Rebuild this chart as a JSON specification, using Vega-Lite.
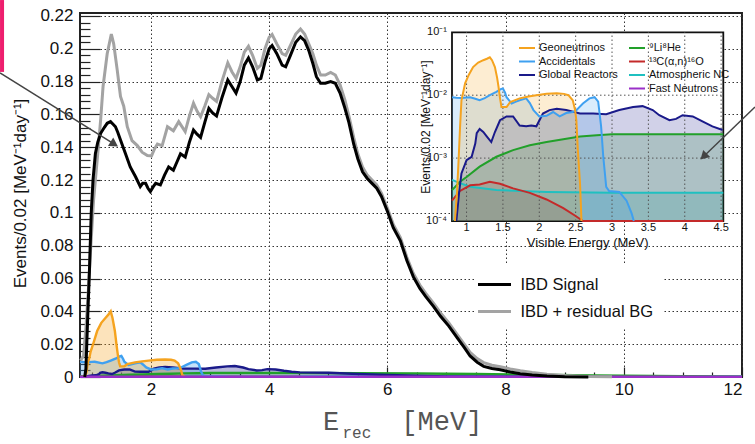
{
"$schema": "https://vega.github.io/schema/vega-lite/v6.json",
"width": 662, "height": 364, "autosize": "none",
"padding": {"left": 80, "top": 13, "right": 13, "bottom": 67},
"background": "white",
"config": {"view": {"stroke": "#222", "strokeWidth": 2}, "font": "Liberation Sans", "axis": {"labelFont": "Liberation Sans", "titleFont": "Liberation Sans", "titleFontWeight": "normal"}, "legend": {"labelFont": "Liberation Sans"}},
"datasets": {
"ibd": [
{"x":0.81,"y":0.010,"s":"IBD + residual BG"},{"x":0.86,"y":0.013,"s":"IBD + residual BG"},{"x":0.90,"y":0.030,"s":"IBD + residual BG"},{"x":0.94,"y":0.052,"s":"IBD + residual BG"},{"x":0.98,"y":0.078,"s":"IBD + residual BG"},{"x":1.03,"y":0.108,"s":"IBD + residual BG"},{"x":1.10,"y":0.136,"s":"IBD + residual BG"},{"x":1.15,"y":0.157,"s":"IBD + residual BG"},{"x":1.19,"y":0.177,"s":"IBD + residual BG"},{"x":1.26,"y":0.197,"s":"IBD + residual BG"},{"x":1.33,"y":0.209,"s":"IBD + residual BG"},{"x":1.37,"y":0.203,"s":"IBD + residual BG"},{"x":1.43,"y":0.187,"s":"IBD + residual BG"},{"x":1.485,"y":0.171,"s":"IBD + residual BG"},{"x":1.54,"y":0.165,"s":"IBD + residual BG"},{"x":1.60,"y":0.1525,"s":"IBD + residual BG"},{"x":1.68,"y":0.144,"s":"IBD + residual BG"},{"x":1.77,"y":0.141,"s":"IBD + residual BG"},{"x":1.85,"y":0.137,"s":"IBD + residual BG"},{"x":1.94,"y":0.135,"s":"IBD + residual BG"},{"x":2.01,"y":0.1347,"s":"IBD + residual BG"},{"x":2.06,"y":0.139,"s":"IBD + residual BG"},{"x":2.11,"y":0.142,"s":"IBD + residual BG"},{"x":2.19,"y":0.141,"s":"IBD + residual BG"},{"x":2.28,"y":0.1525,"s":"IBD + residual BG"},{"x":2.38,"y":0.150,"s":"IBD + residual BG"},{"x":2.47,"y":0.1556,"s":"IBD + residual BG"},{"x":2.58,"y":0.1495,"s":"IBD + residual BG"},{"x":2.65,"y":0.159,"s":"IBD + residual BG"},{"x":2.72,"y":0.1668,"s":"IBD + residual BG"},{"x":2.78,"y":0.162,"s":"IBD + residual BG"},{"x":2.84,"y":0.1586,"s":"IBD + residual BG"},{"x":2.91,"y":0.165,"s":"IBD + residual BG"},{"x":2.98,"y":0.172,"s":"IBD + residual BG"},{"x":3.04,"y":0.170,"s":"IBD + residual BG"},{"x":3.11,"y":0.168,"s":"IBD + residual BG"},{"x":3.20,"y":0.180,"s":"IBD + residual BG"},{"x":3.30,"y":0.1914,"s":"IBD + residual BG"},{"x":3.37,"y":0.186,"s":"IBD + residual BG"},{"x":3.44,"y":0.182,"s":"IBD + residual BG"},{"x":3.51,"y":0.189,"s":"IBD + residual BG"},{"x":3.58,"y":0.198,"s":"IBD + residual BG"},{"x":3.65,"y":0.2015,"s":"IBD + residual BG"},{"x":3.72,"y":0.196,"s":"IBD + residual BG"},{"x":3.80,"y":0.188,"s":"IBD + residual BG"},{"x":3.86,"y":0.190,"s":"IBD + residual BG"},{"x":3.93,"y":0.200,"s":"IBD + residual BG"},{"x":4.00,"y":0.207,"s":"IBD + residual BG"},{"x":4.05,"y":0.2087,"s":"IBD + residual BG"},{"x":4.13,"y":0.203,"s":"IBD + residual BG"},{"x":4.22,"y":0.197,"s":"IBD + residual BG"},{"x":4.28,"y":0.196,"s":"IBD + residual BG"},{"x":4.36,"y":0.202,"s":"IBD + residual BG"},{"x":4.45,"y":0.209,"s":"IBD + residual BG"},{"x":4.53,"y":0.212,"s":"IBD + residual BG"},{"x":4.60,"y":0.209,"s":"IBD + residual BG"},{"x":4.67,"y":0.203,"s":"IBD + residual BG"},{"x":4.74,"y":0.197,"s":"IBD + residual BG"},{"x":4.80,"y":0.190,"s":"IBD + residual BG"},{"x":4.87,"y":0.184,"s":"IBD + residual BG"},{"x":4.95,"y":0.184,"s":"IBD + residual BG"},{"x":5.04,"y":0.1856,"s":"IBD + residual BG"},{"x":5.12,"y":0.184,"s":"IBD + residual BG"},{"x":5.20,"y":0.178,"s":"IBD + residual BG"},{"x":5.28,"y":0.169,"s":"IBD + residual BG"},{"x":5.35,"y":0.159,"s":"IBD + residual BG"},{"x":5.43,"y":0.146,"s":"IBD + residual BG"},{"x":5.50,"y":0.136,"s":"IBD + residual BG"},{"x":5.58,"y":0.128,"s":"IBD + residual BG"},{"x":5.66,"y":0.123,"s":"IBD + residual BG"},{"x":5.74,"y":0.120,"s":"IBD + residual BG"},{"x":5.82,"y":0.117,"s":"IBD + residual BG"},{"x":5.90,"y":0.112,"s":"IBD + residual BG"},{"x":6.00,"y":0.103,"s":"IBD + residual BG"},{"x":6.10,"y":0.093,"s":"IBD + residual BG"},{"x":6.22,"y":0.085,"s":"IBD + residual BG"},{"x":6.33,"y":0.073,"s":"IBD + residual BG"},{"x":6.44,"y":0.063,"s":"IBD + residual BG"},{"x":6.55,"y":0.056,"s":"IBD + residual BG"},{"x":6.65,"y":0.051,"s":"IBD + residual BG"},{"x":6.78,"y":0.045,"s":"IBD + residual BG"},{"x":6.90,"y":0.039,"s":"IBD + residual BG"},{"x":7.04,"y":0.033,"s":"IBD + residual BG"},{"x":7.18,"y":0.026,"s":"IBD + residual BG"},{"x":7.30,"y":0.020,"s":"IBD + residual BG"},{"x":7.40,"y":0.015,"s":"IBD + residual BG"},{"x":7.52,"y":0.0112,"s":"IBD + residual BG"},{"x":7.63,"y":0.0088,"s":"IBD + residual BG"},{"x":7.77,"y":0.0072,"s":"IBD + residual BG"},{"x":7.91,"y":0.0062,"s":"IBD + residual BG"},{"x":8.08,"y":0.0049,"s":"IBD + residual BG"},{"x":8.25,"y":0.0038,"s":"IBD + residual BG"},{"x":8.45,"y":0.0027,"s":"IBD + residual BG"},{"x":8.70,"y":0.0017,"s":"IBD + residual BG"},{"x":9.00,"y":0.0009,"s":"IBD + residual BG"},{"x":9.40,"y":0.0003,"s":"IBD + residual BG"},{"x":9.80,"y":0.0001,"s":"IBD + residual BG"},
{"x":0.88,"y":0,"s":"IBD Signal"},{"x":0.90,"y":0.005,"s":"IBD Signal"},{"x":0.93,"y":0.036,"s":"IBD Signal"},{"x":0.96,"y":0.065,"s":"IBD Signal"},{"x":0.99,"y":0.100,"s":"IBD Signal"},{"x":1.02,"y":0.120,"s":"IBD Signal"},{"x":1.06,"y":0.136,"s":"IBD Signal"},{"x":1.10,"y":0.143,"s":"IBD Signal"},{"x":1.15,"y":0.1485,"s":"IBD Signal"},{"x":1.21,"y":0.152,"s":"IBD Signal"},{"x":1.26,"y":0.1546,"s":"IBD Signal"},{"x":1.316,"y":0.1556,"s":"IBD Signal"},{"x":1.36,"y":0.154,"s":"IBD Signal"},{"x":1.40,"y":0.1525,"s":"IBD Signal"},{"x":1.44,"y":0.149,"s":"IBD Signal"},{"x":1.485,"y":0.1444,"s":"IBD Signal"},{"x":1.53,"y":0.140,"s":"IBD Signal"},{"x":1.57,"y":0.136,"s":"IBD Signal"},{"x":1.65,"y":0.128,"s":"IBD Signal"},{"x":1.74,"y":0.122,"s":"IBD Signal"},{"x":1.82,"y":0.116,"s":"IBD Signal"},{"x":1.86,"y":0.118,"s":"IBD Signal"},{"x":1.91,"y":0.118,"s":"IBD Signal"},{"x":1.95,"y":0.115,"s":"IBD Signal"},{"x":1.99,"y":0.113,"s":"IBD Signal"},{"x":2.04,"y":0.116,"s":"IBD Signal"},{"x":2.08,"y":0.118,"s":"IBD Signal"},{"x":2.16,"y":0.117,"s":"IBD Signal"},{"x":2.23,"y":0.123,"s":"IBD Signal"},{"x":2.30,"y":0.128,"s":"IBD Signal"},{"x":2.38,"y":0.126,"s":"IBD Signal"},{"x":2.44,"y":0.131,"s":"IBD Signal"},{"x":2.50,"y":0.136,"s":"IBD Signal"},{"x":2.58,"y":0.134,"s":"IBD Signal"},{"x":2.65,"y":0.143,"s":"IBD Signal"},{"x":2.72,"y":0.1505,"s":"IBD Signal"},{"x":2.78,"y":0.148,"s":"IBD Signal"},{"x":2.84,"y":0.146,"s":"IBD Signal"},{"x":2.91,"y":0.155,"s":"IBD Signal"},{"x":2.98,"y":0.1637,"s":"IBD Signal"},{"x":3.04,"y":0.161,"s":"IBD Signal"},{"x":3.11,"y":0.159,"s":"IBD Signal"},{"x":3.20,"y":0.170,"s":"IBD Signal"},{"x":3.30,"y":0.181,"s":"IBD Signal"},{"x":3.37,"y":0.177,"s":"IBD Signal"},{"x":3.44,"y":0.173,"s":"IBD Signal"},{"x":3.51,"y":0.180,"s":"IBD Signal"},{"x":3.58,"y":0.190,"s":"IBD Signal"},{"x":3.65,"y":0.1944,"s":"IBD Signal"},{"x":3.72,"y":0.189,"s":"IBD Signal"},{"x":3.80,"y":0.181,"s":"IBD Signal"},{"x":3.86,"y":0.182,"s":"IBD Signal"},{"x":3.93,"y":0.192,"s":"IBD Signal"},{"x":4.00,"y":0.200,"s":"IBD Signal"},{"x":4.05,"y":0.202,"s":"IBD Signal"},{"x":4.13,"y":0.197,"s":"IBD Signal"},{"x":4.22,"y":0.190,"s":"IBD Signal"},{"x":4.28,"y":0.189,"s":"IBD Signal"},{"x":4.36,"y":0.196,"s":"IBD Signal"},{"x":4.45,"y":0.204,"s":"IBD Signal"},{"x":4.53,"y":0.2073,"s":"IBD Signal"},{"x":4.60,"y":0.205,"s":"IBD Signal"},{"x":4.67,"y":0.199,"s":"IBD Signal"},{"x":4.74,"y":0.191,"s":"IBD Signal"},{"x":4.80,"y":0.183,"s":"IBD Signal"},{"x":4.87,"y":0.179,"s":"IBD Signal"},{"x":4.95,"y":0.179,"s":"IBD Signal"},{"x":5.04,"y":0.180,"s":"IBD Signal"},{"x":5.12,"y":0.179,"s":"IBD Signal"},{"x":5.20,"y":0.173,"s":"IBD Signal"},{"x":5.28,"y":0.164,"s":"IBD Signal"},{"x":5.35,"y":0.155,"s":"IBD Signal"},{"x":5.43,"y":0.142,"s":"IBD Signal"},{"x":5.50,"y":0.133,"s":"IBD Signal"},{"x":5.58,"y":0.125,"s":"IBD Signal"},{"x":5.66,"y":0.121,"s":"IBD Signal"},{"x":5.74,"y":0.118,"s":"IBD Signal"},{"x":5.82,"y":0.115,"s":"IBD Signal"},{"x":5.90,"y":0.110,"s":"IBD Signal"},{"x":6.00,"y":0.101,"s":"IBD Signal"},{"x":6.10,"y":0.091,"s":"IBD Signal"},{"x":6.22,"y":0.083,"s":"IBD Signal"},{"x":6.33,"y":0.071,"s":"IBD Signal"},{"x":6.44,"y":0.061,"s":"IBD Signal"},{"x":6.55,"y":0.054,"s":"IBD Signal"},{"x":6.65,"y":0.049,"s":"IBD Signal"},{"x":6.78,"y":0.043,"s":"IBD Signal"},{"x":6.90,"y":0.037,"s":"IBD Signal"},{"x":7.04,"y":0.031,"s":"IBD Signal"},{"x":7.18,"y":0.024,"s":"IBD Signal"},{"x":7.30,"y":0.018,"s":"IBD Signal"},{"x":7.40,"y":0.0128,"s":"IBD Signal"},{"x":7.52,"y":0.009,"s":"IBD Signal"},{"x":7.63,"y":0.0065,"s":"IBD Signal"},{"x":7.77,"y":0.0052,"s":"IBD Signal"},{"x":7.91,"y":0.0044,"s":"IBD Signal"},{"x":8.08,"y":0.003,"s":"IBD Signal"},{"x":8.25,"y":0.002,"s":"IBD Signal"},{"x":8.45,"y":0.0012,"s":"IBD Signal"},{"x":8.70,"y":0.0006,"s":"IBD Signal"},{"x":9.00,"y":0.0002,"s":"IBD Signal"},{"x":9.40,"y":0.00005,"s":"IBD Signal"}
],
"bg": [
{"x":0.80,"y":0.00045,"s":"Atmospheric NC"},{"x":0.91,"y":0.0004,"s":"Atmospheric NC"},{"x":1.05,"y":0.00035,"s":"Atmospheric NC"},{"x":1.41,"y":0.00031,"s":"Atmospheric NC"},{"x":2.10,"y":0.00029,"s":"Atmospheric NC"},{"x":3.01,"y":0.00028,"s":"Atmospheric NC"},{"x":4.53,"y":0.00028,"s":"Atmospheric NC"},{"x":12,"y":0.00028,"s":"Atmospheric NC"},
{"x":0.80,"y":0.00021,"s":"¹³C(α,n)¹⁶O"},{"x":0.91,"y":0.0003,"s":"¹³C(α,n)¹⁶O"},{"x":1.05,"y":0.00037,"s":"¹³C(α,n)¹⁶O"},{"x":1.18,"y":0.00038,"s":"¹³C(α,n)¹⁶O"},{"x":1.32,"y":0.00042,"s":"¹³C(α,n)¹⁶O"},{"x":1.46,"y":0.00039,"s":"¹³C(α,n)¹⁶O"},{"x":1.64,"y":0.00033,"s":"¹³C(α,n)¹⁶O"},{"x":1.87,"y":0.00028,"s":"¹³C(α,n)¹⁶O"},{"x":2.10,"y":0.00022,"s":"¹³C(α,n)¹⁶O"},{"x":2.33,"y":0.00016,"s":"¹³C(α,n)¹⁶O"},{"x":2.50,"y":0.00012,"s":"¹³C(α,n)¹⁶O"},{"x":2.60,"y":0.0001,"s":"¹³C(α,n)¹⁶O"},{"x":4.53,"y":0.0001,"s":"¹³C(α,n)¹⁶O"},
{"x":0.80,"y":0.00031,"s":"⁹Li⁸He"},{"x":0.91,"y":0.00042,"s":"⁹Li⁸He"},{"x":1.00,"y":0.0005,"s":"⁹Li⁸He"},{"x":1.18,"y":0.00073,"s":"⁹Li⁸He"},{"x":1.41,"y":0.00105,"s":"⁹Li⁸He"},{"x":1.64,"y":0.00134,"s":"⁹Li⁸He"},{"x":1.87,"y":0.0016,"s":"⁹Li⁸He"},{"x":2.10,"y":0.0018,"s":"⁹Li⁸He"},{"x":2.33,"y":0.0020,"s":"⁹Li⁸He"},{"x":2.56,"y":0.0022,"s":"⁹Li⁸He"},{"x":2.79,"y":0.0023,"s":"⁹Li⁸He"},{"x":3.00,"y":0.0024,"s":"⁹Li⁸He"},{"x":3.50,"y":0.0024,"s":"⁹Li⁸He"},{"x":4.00,"y":0.0024,"s":"⁹Li⁸He"},{"x":4.53,"y":0.0024,"s":"⁹Li⁸He"},{"x":5.5,"y":0.0023,"s":"⁹Li⁸He"},{"x":6.5,"y":0.0021,"s":"⁹Li⁸He"},{"x":7.5,"y":0.0018,"s":"⁹Li⁸He"},{"x":8.5,"y":0.0014,"s":"⁹Li⁸He"},{"x":9.5,"y":0.0010,"s":"⁹Li⁸He"},{"x":10.5,"y":0.0006,"s":"⁹Li⁸He"},{"x":11.5,"y":0.0003,"s":"⁹Li⁸He"},{"x":12,"y":0.0002,"s":"⁹Li⁸He"},
{"x":0.86,"y":0.0001,"s":"Global Reactors"},{"x":0.90,"y":0.0003,"s":"Global Reactors"},{"x":0.93,"y":0.00057,"s":"Global Reactors"},{"x":1.00,"y":0.00093,"s":"Global Reactors"},{"x":1.07,"y":0.00105,"s":"Global Reactors"},{"x":1.12,"y":0.0017,"s":"Global Reactors"},{"x":1.14,"y":0.0025,"s":"Global Reactors"},{"x":1.18,"y":0.0029,"s":"Global Reactors"},{"x":1.23,"y":0.0026,"s":"Global Reactors"},{"x":1.28,"y":0.0022,"s":"Global Reactors"},{"x":1.34,"y":0.0018,"s":"Global Reactors"},{"x":1.39,"y":0.0026,"s":"Global Reactors"},{"x":1.46,"y":0.0040,"s":"Global Reactors"},{"x":1.55,"y":0.0046,"s":"Global Reactors"},{"x":1.64,"y":0.0046,"s":"Global Reactors"},{"x":1.73,"y":0.0033,"s":"Global Reactors"},{"x":1.82,"y":0.0032,"s":"Global Reactors"},{"x":1.89,"y":0.0033,"s":"Global Reactors"},{"x":1.96,"y":0.0032,"s":"Global Reactors"},{"x":2.05,"y":0.0051,"s":"Global Reactors"},{"x":2.14,"y":0.0058,"s":"Global Reactors"},{"x":2.24,"y":0.0061,"s":"Global Reactors"},{"x":2.37,"y":0.0058,"s":"Global Reactors"},{"x":2.56,"y":0.0051,"s":"Global Reactors"},{"x":2.74,"y":0.0051,"s":"Global Reactors"},{"x":2.92,"y":0.0050,"s":"Global Reactors"},{"x":3.10,"y":0.0058,"s":"Global Reactors"},{"x":3.29,"y":0.0065,"s":"Global Reactors"},{"x":3.42,"y":0.0067,"s":"Global Reactors"},{"x":3.56,"y":0.0058,"s":"Global Reactors"},{"x":3.65,"y":0.0048,"s":"Global Reactors"},{"x":3.79,"y":0.0040,"s":"Global Reactors"},{"x":3.88,"y":0.0042,"s":"Global Reactors"},{"x":3.97,"y":0.0048,"s":"Global Reactors"},{"x":4.11,"y":0.0046,"s":"Global Reactors"},{"x":4.25,"y":0.0038,"s":"Global Reactors"},{"x":4.38,"y":0.0032,"s":"Global Reactors"},{"x":4.52,"y":0.0028,"s":"Global Reactors"},{"x":5.0,"y":0.0026,"s":"Global Reactors"},{"x":5.5,"y":0.0018,"s":"Global Reactors"},{"x":6.0,"y":0.0012,"s":"Global Reactors"},{"x":7.0,"y":0.0004,"s":"Global Reactors"},{"x":8.0,"y":0.00012,"s":"Global Reactors"},{"x":9.0,"y":0.0001,"s":"Global Reactors"},
{"x":0.80,"y":0.0093,"s":"Accidentals"},{"x":0.86,"y":0.0091,"s":"Accidentals"},{"x":0.93,"y":0.0090,"s":"Accidentals"},{"x":1.00,"y":0.0092,"s":"Accidentals"},{"x":1.05,"y":0.0093,"s":"Accidentals"},{"x":1.12,"y":0.0088,"s":"Accidentals"},{"x":1.18,"y":0.0083,"s":"Accidentals"},{"x":1.25,"y":0.0090,"s":"Accidentals"},{"x":1.32,"y":0.0100,"s":"Accidentals"},{"x":1.41,"y":0.0113,"s":"Accidentals"},{"x":1.47,"y":0.0125,"s":"Accidentals"},{"x":1.50,"y":0.0128,"s":"Accidentals"},{"x":1.53,"y":0.011,"s":"Accidentals"},{"x":1.55,"y":0.0093,"s":"Accidentals"},{"x":1.62,"y":0.0074,"s":"Accidentals"},{"x":1.68,"y":0.0079,"s":"Accidentals"},{"x":1.73,"y":0.0083,"s":"Accidentals"},{"x":1.82,"y":0.0089,"s":"Accidentals"},{"x":1.87,"y":0.0075,"s":"Accidentals"},{"x":1.92,"y":0.0058,"s":"Accidentals"},{"x":2.00,"y":0.0046,"s":"Accidentals"},{"x":2.10,"y":0.0047,"s":"Accidentals"},{"x":2.19,"y":0.0054,"s":"Accidentals"},{"x":2.28,"y":0.0046,"s":"Accidentals"},{"x":2.37,"y":0.0052,"s":"Accidentals"},{"x":2.46,"y":0.0054,"s":"Accidentals"},{"x":2.51,"y":0.0058,"s":"Accidentals"},{"x":2.60,"y":0.0074,"s":"Accidentals"},{"x":2.69,"y":0.0089,"s":"Accidentals"},{"x":2.76,"y":0.0093,"s":"Accidentals"},{"x":2.81,"y":0.0079,"s":"Accidentals"},{"x":2.85,"y":0.0032,"s":"Accidentals"},{"x":2.88,"y":0.00105,"s":"Accidentals"},{"x":2.92,"y":0.00035,"s":"Accidentals"},{"x":2.96,"y":0.0003,"s":"Accidentals"},{"x":3.10,"y":0.00029,"s":"Accidentals"},{"x":3.20,"y":0.00021,"s":"Accidentals"},{"x":3.27,"y":0.000132,"s":"Accidentals"},{"x":3.30,"y":0.0001,"s":"Accidentals"},
{"x":0.84,"y":0.0001,"s":"Geoneutrinos"},{"x":0.87,"y":0.0003,"s":"Geoneutrinos"},{"x":0.89,"y":0.0009,"s":"Geoneutrinos"},{"x":0.91,"y":0.003,"s":"Geoneutrinos"},{"x":0.93,"y":0.0083,"s":"Geoneutrinos"},{"x":0.96,"y":0.012,"s":"Geoneutrinos"},{"x":0.98,"y":0.0155,"s":"Geoneutrinos"},{"x":1.03,"y":0.021,"s":"Geoneutrinos"},{"x":1.09,"y":0.028,"s":"Geoneutrinos"},{"x":1.16,"y":0.033,"s":"Geoneutrinos"},{"x":1.23,"y":0.036,"s":"Geoneutrinos"},{"x":1.28,"y":0.038,"s":"Geoneutrinos"},{"x":1.32,"y":0.040,"s":"Geoneutrinos"},{"x":1.35,"y":0.036,"s":"Geoneutrinos"},{"x":1.39,"y":0.028,"s":"Geoneutrinos"},{"x":1.42,"y":0.019,"s":"Geoneutrinos"},{"x":1.44,"y":0.0135,"s":"Geoneutrinos"},{"x":1.46,"y":0.009,"s":"Geoneutrinos"},{"x":1.48,"y":0.0065,"s":"Geoneutrinos"},{"x":1.55,"y":0.0065,"s":"Geoneutrinos"},{"x":1.60,"y":0.0078,"s":"Geoneutrinos"},{"x":1.73,"y":0.0089,"s":"Geoneutrinos"},{"x":1.85,"y":0.0095,"s":"Geoneutrinos"},{"x":1.96,"y":0.0100,"s":"Geoneutrinos"},{"x":2.10,"y":0.0105,"s":"Geoneutrinos"},{"x":2.24,"y":0.0107,"s":"Geoneutrinos"},{"x":2.34,"y":0.0105,"s":"Geoneutrinos"},{"x":2.40,"y":0.0100,"s":"Geoneutrinos"},{"x":2.46,"y":0.0083,"s":"Geoneutrinos"},{"x":2.49,"y":0.006,"s":"Geoneutrinos"},{"x":2.51,"y":0.0040,"s":"Geoneutrinos"},{"x":2.53,"y":0.00135,"s":"Geoneutrinos"},{"x":2.56,"y":0.0004,"s":"Geoneutrinos"},{"x":2.58,"y":0.0001,"s":"Geoneutrinos"},
{"x":0.80,"y":0.00018,"s":"Fast Neutrons"},{"x":12,"y":0.00018,"s":"Fast Neutrons"}
],
"ixticks": [{"v":1,"lab":"1"},{"v":1.5,"lab":"1.5"},{"v":2,"lab":"2"},{"v":2.5,"lab":"2.5"},{"v":3,"lab":"3"},{"v":3.5,"lab":"3.5"},{"v":4,"lab":"4"},{"v":4.5,"lab":"4.5"}],
"iyticks": [{"v":0.0001,"lab":"10⁻⁴"},{"v":0.001,"lab":"10⁻³"},{"v":0.01,"lab":"10⁻²"},{"v":0.1,"lab":"10⁻¹"}]
},
"layer": [
{
"layer": [
{"data": {"name": "bg"}, "transform": [{"filter": {"field": "s", "oneOf": ["Geoneutrinos", "Accidentals", "Global Reactors"]}}],
 "mark": {"type": "area", "fillOpacity": 0.3},
 "encoding": {
  "x": {"field": "x", "type": "quantitative", "scale": {"domain": [0.8, 12], "nice": false, "zero": false}, "axis": null},
  "y": {"field": "y", "type": "quantitative", "scale": {"domain": [0, 0.2218], "nice": false, "zero": false}, "axis": null, "stack": null},
  "fill": {"field": "s", "type": "nominal", "scale": {"domain": ["Geoneutrinos", "Accidentals", "Global Reactors"], "range": ["#f5a31f", "#3fa0f0", "#1a1a8a"]}, "legend": null}
 }},
{"data": {"name": "bg"},
 "mark": {"type": "line", "strokeWidth": 2.4},
 "encoding": {
  "x": {"field": "x", "type": "quantitative", "scale": {"domain": [0.8, 12], "nice": false, "zero": false}, "axis": null},
  "y": {"field": "y", "type": "quantitative", "scale": {"domain": [0, 0.2218], "nice": false, "zero": false}, "axis": null, "stack": null},
  "stroke": {"field": "s", "type": "nominal", "scale": {"domain": ["Atmospheric NC", "¹³C(α,n)¹⁶O", "⁹Li⁸He", "Global Reactors", "Accidentals", "Geoneutrinos", "Fast Neutrons"], "range": ["#1fc0c0", "#c42a2a", "#22a02a", "#1a1a8a", "#3fa0f0", "#f5a31f", "#9a30c8"]}, "legend": null}
 }},
{"data": {"name": "ibd"},
 "mark": {"type": "line", "strokeWidth": 3},
 "encoding": {
  "x": {"field": "x", "type": "quantitative", "scale": {"domain": [0.8, 12], "nice": false, "zero": false},
   "axis": {"orient": "bottom", "values": [2, 4, 6, 8, 10, 12], "grid": true, "gridDash": [1.5, 2.5], "gridColor": "#333", "gridWidth": 1, "tickSize": -10, "tickColor": "#222", "tickWidth": 1.2, "labelPadding": 14, "labelFontSize": 17, "labelColor": "#111", "domain": false, "title": null}},
  "y": {"field": "y", "type": "quantitative", "scale": {"domain": [0, 0.2218], "nice": false, "zero": false}, "stack": null,
   "axis": {"orient": "left", "values": [0, 0.02, 0.04, 0.06, 0.08, 0.1, 0.12, 0.14, 0.16, 0.18, 0.2, 0.22], "format": ".2~f", "grid": true, "gridDash": [1.5, 2.5], "gridColor": "#333", "gridWidth": 1, "tickSize": -20, "tickColor": "#222", "tickWidth": 1.2, "labelPadding": 27, "labelFontSize": 17, "labelColor": "#111", "domain": false,
    "title": "Events/0.02 [MeV⁻¹day⁻¹]", "titleFontSize": 17, "titleColor": "#111", "titleX": -55, "titleY": 180, "titleAngle": 270, "titleBaseline": "alphabetic", "titleAlign": "center"}},
  "color": {"field": "s", "type": "nominal", "sort": null, "scale": {"domain": ["IBD Signal", "IBD + residual BG"], "range": ["#000000", "#a3a3a3"]},
   "legend": {"orient": "none", "legendX": 395, "legendY": 252, "title": null, "symbolType": "M-1.65,0H1.65", "symbolSize": 400, "symbolStrokeWidth": 3, "labelFontSize": 16.5, "labelColor": "#111", "labelOffset": 14.5, "rowPadding": 7, "padding": 8, "fillColor": "white"}}
 }},
{"data": {"name": "ibd"},
 "mark": {"type": "point", "opacity": 0},
 "encoding": {
  "x": {"field": "x", "type": "quantitative", "scale": {"domain": [0.8, 12], "nice": false, "zero": false},
   "axis": {"orient": "bottom", "values": [1, 1.5, 2.5, 3, 3.5, 4.5, 5, 5.5, 6.5, 7, 7.5, 8.5, 9, 9.5, 10.5, 11, 11.5], "grid": false, "labels": false, "domain": false, "tickSize": -5, "tickColor": "#222", "tickWidth": 1.2, "title": null}},
  "y": {"field": "y", "type": "quantitative", "scale": {"domain": [0, 0.2218], "nice": false, "zero": false}, "stack": null,
   "axis": {"orient": "left", "values": [0.004,0.008,0.012,0.016,0.024,0.028,0.032,0.036,0.044,0.048,0.052,0.056,0.064,0.068,0.072,0.076,0.084,0.088,0.092,0.096,0.104,0.108,0.112,0.116,0.124,0.128,0.132,0.136,0.144,0.148,0.152,0.156,0.164,0.168,0.172,0.176,0.184,0.188,0.192,0.196,0.204,0.208,0.212,0.216], "grid": false, "labels": false, "domain": false, "tickSize": -10, "tickColor": "#222", "tickWidth": 1.2, "title": null}}
 }},
{"data": {"values": [{}]}, "mark": {"type": "text", "font": "Liberation Mono", "fontSize": 27, "color": "#555", "align": "left", "baseline": "alphabetic"},
 "encoding": {"x": {"datum": 4.91, "type": "quantitative", "scale": {"domain": [0.8, 12], "nice": false, "zero": false}, "axis": null}, "y": {"datum": -0.0323, "type": "quantitative", "scale": {"domain": [0, 0.2218], "nice": false, "zero": false}, "axis": null}, "text": {"value": "E"}}},
{"data": {"values": [{}]}, "mark": {"type": "text", "font": "Liberation Mono", "fontSize": 16, "color": "#555", "align": "left", "baseline": "alphabetic"},
 "encoding": {"x": {"datum": 5.24, "type": "quantitative", "scale": {"domain": [0.8, 12], "nice": false, "zero": false}, "axis": null}, "y": {"datum": -0.0373, "type": "quantitative", "scale": {"domain": [0, 0.2218], "nice": false, "zero": false}, "axis": null}, "text": {"value": "rec"}}},
{"data": {"values": [{}]}, "mark": {"type": "text", "font": "Liberation Mono", "fontSize": 27, "color": "#555", "align": "left", "baseline": "alphabetic"},
 "encoding": {"x": {"datum": 6.237, "type": "quantitative", "scale": {"domain": [0.8, 12], "nice": false, "zero": false}, "axis": null}, "y": {"datum": -0.0323, "type": "quantitative", "scale": {"domain": [0, 0.2218], "nice": false, "zero": false}, "axis": null}, "text": {"value": "[MeV]"}}},
{"data": {"values": [{}]}, "mark": {"type": "rule", "color": "#444", "strokeWidth": 1.5},
 "encoding": {"x": {"datum": -0.553, "type": "quantitative", "scale": {"domain": [0.8, 12], "nice": false, "zero": false}, "axis": null}, "y": {"datum": 0.1853, "type": "quantitative", "scale": {"domain": [0, 0.2218], "nice": false, "zero": false}, "axis": null}, "x2": {"datum": 1.38}, "y2": {"datum": 0.1419}}},
{"data": {"values": [{}]}, "mark": {"type": "point", "shape": "triangle-right", "filled": true, "color": "#444", "size": 100, "angle": 32, "opacity": 1},
 "encoding": {"x": {"datum": 1.38, "type": "quantitative", "scale": {"domain": [0.8, 12], "nice": false, "zero": false}, "axis": null}, "y": {"datum": 0.1419, "type": "quantitative", "scale": {"domain": [0, 0.2218], "nice": false, "zero": false}, "axis": null}}},
{"data": {"values": [{}]}, "mark": {"type": "rect", "color": "#ee1e6e"},
 "encoding": {"x": {"datum": -0.553, "type": "quantitative", "scale": {"domain": [0.8, 12], "nice": false, "zero": false}, "axis": null}, "x2": {"datum": -0.485}, "y": {"datum": 0.2297, "type": "quantitative", "scale": {"domain": [0, 0.2218], "nice": false, "zero": false}, "axis": null}, "y2": {"datum": 0.1859}}}
],
"resolve": {"axis": {"x": "independent", "y": "independent"}}
},
{
"layer": [
{"data": {"values": [{}]}, "mark": {"type": "rect", "fill": "white", "stroke": "#111", "strokeWidth": 1.8},
 "encoding": {
  "x": {"datum": 0.8, "type": "quantitative", "scale": {"domain": [0.8, 4.53], "range": [372, 643.3], "nice": false, "zero": false}, "axis": null},
  "x2": {"datum": 4.53},
  "y": {"datum": 0.0001, "type": "quantitative", "scale": {"type": "log", "domain": [0.0001, 0.1], "range": [208, 19.3], "nice": false}, "axis": null},
  "y2": {"datum": 0.1}
 }},
{"data": {"name": "bg"}, "transform": [{"filter": "datum.x <= 4.54"}],
 "mark": {"type": "area", "fillOpacity": 0.2},
 "encoding": {
  "x": {"field": "x", "type": "quantitative", "scale": {"domain": [0.8, 4.53], "range": [372, 643.3], "nice": false, "zero": false}, "axis": null},
  "y": {"field": "y", "type": "quantitative", "scale": {"type": "log", "domain": [0.0001, 0.1], "range": [208, 19.3], "nice": false}, "axis": null, "stack": null},
  "y2": {"datum": 0.0001},
  "fill": {"field": "s", "type": "nominal", "scale": {"domain": ["Atmospheric NC", "¹³C(α,n)¹⁶O", "⁹Li⁸He", "Global Reactors", "Accidentals", "Geoneutrinos", "Fast Neutrons"], "range": ["#1fc0c0", "#c42a2a", "#22a02a", "#1a1a8a", "#3fa0f0", "#f5a31f", "#9a30c8"]}, "legend": null}
 }},
{"data": {"name": "ixticks"},
 "mark": {"type": "rule", "color": "#555", "strokeWidth": 1, "strokeDash": [1.5, 2.5]},
 "encoding": {
  "x": {"field": "v", "type": "quantitative", "scale": {"domain": [0.8, 4.53], "range": [372, 643.3], "nice": false, "zero": false}, "axis": null},
  "y": {"datum": 0.0001, "type": "quantitative", "scale": {"type": "log", "domain": [0.0001, 0.1], "range": [208, 19.3], "nice": false}, "axis": null},
  "y2": {"datum": 0.1}
 }},
{"data": {"name": "iyticks"}, "transform": [{"filter": "datum.v > 0.0002 && datum.v < 0.05"}],
 "mark": {"type": "rule", "color": "#555", "strokeWidth": 1, "strokeDash": [1.5, 2.5]},
 "encoding": {
  "x": {"datum": 0.8, "type": "quantitative", "scale": {"domain": [0.8, 4.53], "range": [372, 643.3], "nice": false, "zero": false}, "axis": null},
  "x2": {"datum": 4.53},
  "y": {"field": "v", "type": "quantitative", "scale": {"type": "log", "domain": [0.0001, 0.1], "range": [208, 19.3], "nice": false}, "axis": null}
 }},
{"data": {"name": "bg"}, "transform": [{"filter": "datum.x <= 4.54"}],
 "mark": {"type": "line", "strokeWidth": 2},
 "encoding": {
  "x": {"field": "x", "type": "quantitative", "scale": {"domain": [0.8, 4.53], "range": [372, 643.3], "nice": false, "zero": false}, "axis": null},
  "y": {"field": "y", "type": "quantitative", "scale": {"type": "log", "domain": [0.0001, 0.1], "range": [208, 19.3], "nice": false}, "axis": null, "stack": null},
  "color": {"field": "s", "type": "nominal", "scale": {"domain": ["Geoneutrinos", "Accidentals", "Global Reactors", " ", "⁹Li⁸He", "¹³C(α,n)¹⁶O", "Atmospheric NC", "Fast Neutrons"], "range": ["#f5a31f", "#3fa0f0", "#1a1a8a", "rgba(0,0,0,0)", "#22a02a", "#c42a2a", "#1fc0c0", "#9a30c8"]},
   "legend": {"orient": "none", "legendX": 440, "legendY": 28, "columns": 2, "title": null, "symbolType": "M-1.333,0H1.333", "symbolSize": 144, "symbolStrokeWidth": 2, "labelFontSize": 11, "labelColor": "#111", "labelOffset": 5, "rowPadding": 1.5, "columnPadding": 7, "padding": 0}}
 }},
{"data": {"name": "ixticks"},
 "mark": {"type": "text", "fontSize": 11, "color": "#111", "align": "center", "baseline": "middle"},
 "encoding": {
  "x": {"field": "v", "type": "quantitative", "scale": {"domain": [0.8, 4.53], "range": [372, 643.3], "nice": false, "zero": false}, "axis": null},
  "y": {"datum": 0.0000774, "type": "quantitative", "scale": {"type": "log", "domain": [0.0001, 0.1], "range": [208, 19.3], "nice": false}, "axis": null},
  "text": {"field": "lab"}
 }},
{"data": {"name": "iyticks"},
 "mark": {"type": "text", "fontSize": 11, "color": "#111", "align": "right", "baseline": "middle"},
 "encoding": {
  "x": {"datum": 0.731, "type": "quantitative", "scale": {"domain": [0.8, 4.53], "range": [372, 643.3], "nice": false, "zero": false}, "axis": null},
  "y": {"field": "v", "type": "quantitative", "scale": {"type": "log", "domain": [0.0001, 0.1], "range": [208, 19.3], "nice": false}, "axis": null},
  "text": {"field": "lab"}
 }},
{"data": {"values": [{}]}, "mark": {"type": "text", "fontSize": 13, "color": "#111", "align": "center", "baseline": "alphabetic"},
 "encoding": {
  "x": {"datum": 2.665, "type": "quantitative", "scale": {"domain": [0.8, 4.53], "range": [372, 643.3], "nice": false, "zero": false}, "axis": null},
  "y": {"datum": 0.0000386, "type": "quantitative", "scale": {"type": "log", "domain": [0.0001, 0.1], "range": [208, 19.3], "nice": false}, "axis": null},
  "text": {"value": "Visible Energy (MeV)"}
 }},
{"data": {"values": [{}]}, "mark": {"type": "text", "fontSize": 12, "color": "#111", "align": "center", "baseline": "alphabetic", "angle": 270},
 "encoding": {
  "x": {"datum": 0.5, "type": "quantitative", "scale": {"domain": [0.8, 4.53], "range": [372, 643.3], "nice": false, "zero": false}, "axis": null},
  "y": {"datum": 0.00312, "type": "quantitative", "scale": {"type": "log", "domain": [0.0001, 0.1], "range": [208, 19.3], "nice": false}, "axis": null},
  "text": {"value": "Events/0.02 [MeV⁻¹day⁻¹]"}
 }},
{"data": {"values": [{}]}, "mark": {"type": "rule", "color": "#444", "strokeWidth": 1.5},
 "encoding": {"x": {"datum": 4.966, "type": "quantitative", "scale": {"domain": [0.8, 4.53], "range": [372, 643.3], "nice": false, "zero": false}, "axis": null}, "y": {"datum": 0.00649, "type": "quantitative", "scale": {"type": "log", "domain": [0.0001, 0.1], "range": [208, 19.3], "nice": false}, "axis": null}, "x2": {"datum": 4.259}, "y2": {"datum": 0.00106}}},
{"data": {"values": [{}]}, "mark": {"type": "point", "shape": "triangle-right", "filled": true, "color": "#444", "size": 100, "angle": 136, "opacity": 1},
 "encoding": {"x": {"datum": 4.259, "type": "quantitative", "scale": {"domain": [0.8, 4.53], "range": [372, 643.3], "nice": false, "zero": false}, "axis": null}, "y": {"datum": 0.00106, "type": "quantitative", "scale": {"type": "log", "domain": [0.0001, 0.1], "range": [208, 19.3], "nice": false}, "axis": null}}}
]
}
],
"resolve": {"scale": {"x": "independent", "y": "independent", "color": "independent", "fill": "independent", "stroke": "independent"}}
}
